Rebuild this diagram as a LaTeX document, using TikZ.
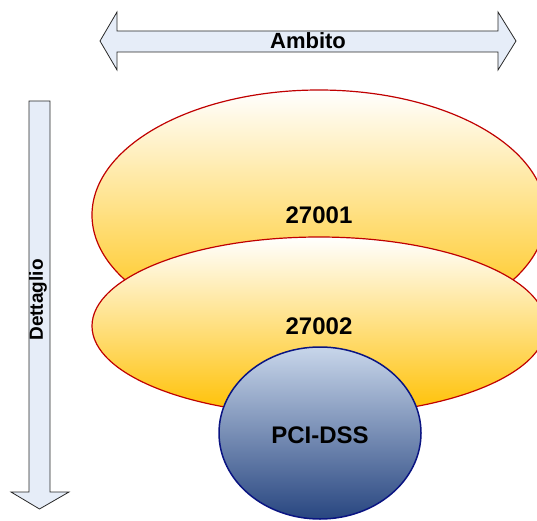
\documentclass[tikz,border=0pt]{standalone}
\usepackage{fontspec}
\setmainfont{Liberation Sans}
\definecolor{arrowfill}{RGB}{230,237,248}
\definecolor{arrowline}{RGB}{40,40,40}
\definecolor{ellline}{RGB}{192,0,0}
\definecolor{ellbot}{RGB}{255,192,0}
\definecolor{circtop}{RGB}{200,214,234}
\definecolor{circbot}{RGB}{40,70,128}
\definecolor{circline}{RGB}{10,20,130}
\begin{document}
\begin{tikzpicture}[x=1pt,y=1pt,
  ellstyle/.style={draw=ellline,line width=1.2pt,top color=white,bottom color=ellbot},
  circstyle/.style={draw=circline,line width=1.5pt,top color=circtop,bottom color=circbot},
  arrowstyle/.style={draw=arrowline,line width=0.8pt,fill=arrowfill,line join=miter},
  lbl/.style={font=\bfseries\fontsize{24}{28}\selectfont,inner sep=0pt}]
\useasboundingbox (0,0) rectangle (537,520);
% ellipses
\path[ellstyle] (319,305) ellipse [x radius=227, y radius=125];
\path[ellstyle] (319,194) ellipse [x radius=227, y radius=89];
\path[circstyle] (320,87) ellipse [x radius=101, y radius=86];
\node[lbl] (e1) at (319,305) {27001};
\node[lbl] (e2) at (319,194) {27002};
\node[lbl] (pci) at (320,85) {PCI-DSS};
% top double arrow
\path[arrowstyle] (100,479) -- (117,508) -- (117,489) -- (498,489) -- (498,508) -- (516,479)
  -- (498,450) -- (498,468) -- (117,468) -- (117,450) -- cycle;
\node[lbl,font=\bfseries\fontsize{22}{26}\selectfont] (amb) at (308,479) {Ambito};
% left down arrow
\path[arrowstyle] (29,419) -- (50,419) -- (50,28) -- (69,28) -- (39.5,11) -- (11,28) -- (29,28) -- cycle;
\node[lbl,font=\bfseries\fontsize{19}{23}\selectfont,rotate=90] (det) at (38,220) {Dettaglio};
\end{tikzpicture}
\end{document}
